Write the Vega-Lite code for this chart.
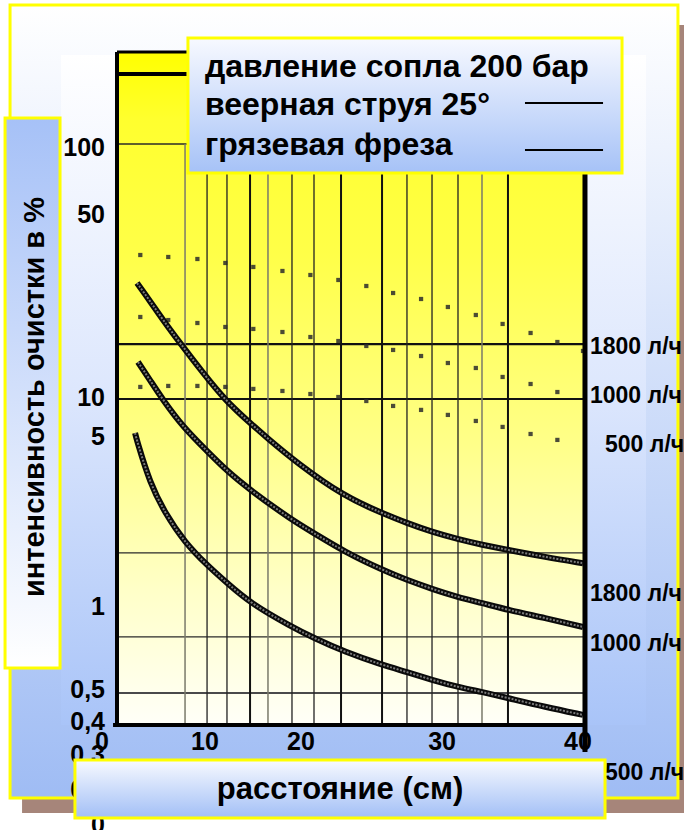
{
"$schema": "https://vega.github.io/schema/vega-lite/v6.json",
"width": 466, "height": 673,
"autosize": {"type": "none"},
"padding": {"left": 117, "top": 52, "right": 101, "bottom": 105},
"background": "#ffffff",
"config": {"view": {"stroke": null}, "text": {"font": "Liberation Sans", "fontWeight": "bold", "color": "#000000"}},
"datasets": {
"curves": [
{"flow":1800,"x":1.72,"y":28.5},{"flow":1800,"x":2.83,"y":24.23},{"flow":1800,"x":3.95,"y":20.4},{"flow":1800,"x":5.41,"y":16.58},{"flow":1800,"x":7.38,"y":12.65},{"flow":1800,"x":9.27,"y":9.91},{"flow":1800,"x":11.42,"y":8.05},{"flow":1800,"x":12.79,"y":7.1},{"flow":1800,"x":15.45,"y":5.61},{"flow":1800,"x":19.57,"y":4.13},{"flow":1800,"x":22.75,"y":3.57},{"flow":1800,"x":24.89,"y":3.26},{"flow":1800,"x":27.04,"y":3.01},{"flow":1800,"x":29.27,"y":2.82},{"flow":1800,"x":31.33,"y":2.68},{"flow":1800,"x":33.56,"y":2.56},{"flow":1800,"x":36.74,"y":2.4},{"flow":1800,"x":40,"y":2.27},
{"flow":1000,"x":1.8,"y":13.97},{"flow":1000,"x":2.83,"y":11.87},{"flow":1000,"x":3.95,"y":9.91},{"flow":1000,"x":5.67,"y":7.77},{"flow":1000,"x":7.73,"y":6.25},{"flow":1000,"x":9.44,"y":5.22},{"flow":1000,"x":11.42,"y":4.4},{"flow":1000,"x":15.02,"y":3.35},{"flow":1000,"x":16.91,"y":2.98},{"flow":1000,"x":19.57,"y":2.51},{"flow":1000,"x":22.75,"y":2.14},{"flow":1000,"x":24.89,"y":1.95},{"flow":1000,"x":27.04,"y":1.8},{"flow":1000,"x":29.27,"y":1.67},{"flow":1000,"x":31.33,"y":1.585},{"flow":1000,"x":33.56,"y":1.488},{"flow":1000,"x":36.74,"y":1.384},{"flow":1000,"x":40,"y":1.276},
{"flow":500,"x":1.55,"y":7.36},{"flow":500,"x":1.72,"y":6.84},{"flow":500,"x":2.83,"y":4.68},{"flow":500,"x":4.12,"y":3.57},{"flow":500,"x":5.84,"y":2.73},{"flow":500,"x":7.73,"y":2.23},{"flow":500,"x":9.44,"y":1.9},{"flow":500,"x":11.42,"y":1.585},{"flow":500,"x":15.02,"y":1.276},{"flow":500,"x":16.91,"y":1.155},{"flow":500,"x":19.57,"y":1.018},{"flow":500,"x":22.75,"y":0.906},{"flow":500,"x":24.89,"y":0.85},{"flow":500,"x":27.04,"y":0.791},{"flow":500,"x":29.27,"y":0.742},{"flow":500,"x":31.33,"y":0.71},{"flow":500,"x":33.56,"y":0.672},{"flow":500,"x":36.74,"y":0.62},{"flow":500,"x":40,"y":0.577}
],
"dots": [
{"flow":1800,"x":2.0,"y":36.7},{"flow":1800,"x":4.4,"y":36.05},{"flow":1800,"x":6.9,"y":35.4},{"flow":1800,"x":9.3,"y":34.15},{"flow":1800,"x":11.7,"y":32.94},{"flow":1800,"x":14.2,"y":31.77},{"flow":1800,"x":16.6,"y":30.64},{"flow":1800,"x":19.0,"y":29.29},{"flow":1800,"x":21.4,"y":27.74},{"flow":1800,"x":23.7,"y":26.04},{"flow":1800,"x":26.1,"y":24.67},{"flow":1800,"x":28.4,"y":22.95},{"flow":1800,"x":30.8,"y":21.35},{"flow":1800,"x":33.1,"y":19.69},{"flow":1800,"x":35.5,"y":18.15},{"flow":1800,"x":37.8,"y":16.73},{"flow":1800,"x":40.0,"y":15.43},
{"flow":1000,"x":2.0,"y":20.97},{"flow":1000,"x":4.4,"y":20.4},{"flow":1000,"x":6.9,"y":19.86},{"flow":1000,"x":9.3,"y":19.16},{"flow":1000,"x":11.7,"y":18.82},{"flow":1000,"x":14.2,"y":18.31},{"flow":1000,"x":16.6,"y":17.5},{"flow":1000,"x":19.0,"y":16.88},{"flow":1000,"x":21.4,"y":16.14},{"flow":1000,"x":23.7,"y":15.57},{"flow":1000,"x":26.1,"y":14.74},{"flow":1000,"x":28.4,"y":13.84},{"flow":1000,"x":30.8,"y":13.23},{"flow":1000,"x":33.1,"y":12.2},{"flow":1000,"x":35.5,"y":11.45},{"flow":1000,"x":37.8,"y":10.65},
{"flow":500,"x":2.0,"y":11.15},{"flow":500,"x":4.4,"y":11.25},{"flow":500,"x":6.9,"y":11.25},{"flow":500,"x":9.3,"y":11.15},{"flow":500,"x":11.7,"y":10.95},{"flow":500,"x":14.2,"y":10.75},{"flow":500,"x":16.6,"y":10.46},{"flow":500,"x":19.0,"y":10.18},{"flow":500,"x":21.4,"y":9.82},{"flow":500,"x":23.7,"y":9.39},{"flow":500,"x":26.1,"y":9.06},{"flow":500,"x":28.4,"y":8.66},{"flow":500,"x":30.8,"y":8.2},{"flow":500,"x":33.1,"y":7.77},{"flow":500,"x":35.5,"y":7.29},{"flow":500,"x":37.8,"y":6.91}
],
"ylabels": [
{"label":"100","y":96.45},{"label":"50","y":52.68},{"label":"10","y":10.09},{"label":"5","y":7.1},{"label":"1","y":1.529},{"label":"0,5","y":0.7226},{"label":"0,4","y":0.5412},{"label":"0,3","y":0.4017},{"label":"0,2","y":0.2929},{"label":"0","y":0.2136}
],
"xlabels": [
{"label":"0","x":-1.29},{"label":"10","x":7.55},{"label":"20","x":15.79},{"label":"30","x":27.9},{"label":"40","x":39.57}
],
"flowlabels": [
{"label":"1800 л/ч","x":40.6,"y":15.99},{"label":"1000 л/ч","x":40.6,"y":10.27},{"label":"500 л/ч","x":41.89,"y":6.6},
{"label":"1800 л/ч","x":40.6,"y":1.719},{"label":"1000 л/ч","x":40.6,"y":1.094},{"label":"500 л/ч","x":41.89,"y":0.3415}
]
},
"layer": [
{"data":{"values":[{}]},"mark":{"type":"rect","fill":"#a6857a","clip":false},
 "encoding":{"x":{"datum":-8.15,"type":"quantitative","scale":{"domain":[0,40],"nice":false,"zero":false},"axis":null},"x2":{"datum":48.67},
 "y":{"datum":292.9,"type":"quantitative","scale":{"type":"log","domain":[0.5266,229.5],"nice":false},"axis":null},"y2":{"datum":0.2379}}},
{"data":{"values":[{}]},"mark":{"type":"rect","clip":false,"stroke":"#ffff00","strokeWidth":3,
 "fill":{"gradient":"linear","x1":0,"y1":0,"x2":0,"y2":1,"stops":[{"offset":0,"color":"#ffffff"},{"offset":1,"color":"#9fbcf4"}]}},
 "encoding":{"x":{"datum":-9.18,"type":"quantitative","axis":null},"x2":{"datum":48.15},"y":{"datum":350.9,"type":"quantitative","axis":null},"y2":{"datum":0.2724}}},
{"data":{"values":[{}]},"mark":{"type":"rect","clip":false,
 "fill":{"gradient":"linear","x1":0,"y1":0,"x2":0,"y2":1,"stops":[{"offset":0,"color":"#ffffff"},{"offset":0.5,"color":"#dde7fd"},{"offset":1,"color":"#a9c4f8"}]}},
 "encoding":{"x":{"datum":-4.81,"type":"quantitative","axis":null},"x2":{"datum":45.41},"y":{"datum":223.4,"type":"quantitative","axis":null},"y2":{"datum":0.5266}}},
{"data":{"values":[{}]},"mark":{"type":"rect","clip":false,"stroke":"#ffff00","strokeWidth":3,
 "fill":{"gradient":"linear","x1":0,"y1":0,"x2":0,"y2":1,"stops":[{"offset":0,"color":"#a6c1f7"},{"offset":1,"color":"#ffffff"}]}},
 "encoding":{"x":{"datum":-9.61,"type":"quantitative","axis":null},"x2":{"datum":-4.89},"y":{"datum":126.5,"type":"quantitative","axis":null},"y2":{"datum":0.8813}}},
{"data":{"values":[{}]},"mark":{"type":"text","clip":false,"angle":270,"align":"center","baseline":"middle","fontSize":29},
 "encoding":{"x":{"datum":-7.01,"type":"quantitative","axis":null},"y":{"datum":10.18,"type":"quantitative","axis":null},"text":{"value":"интенсивность очистки в %"}}},
{"data":{"values":[{}]},"mark":{"type":"rect","clip":false,
 "fill":{"gradient":"linear","x1":0,"y1":0,"x2":0,"y2":1,"stops":[{"offset":0,"color":"#ffff00"},{"offset":0.1,"color":"#ffff2e"},{"offset":0.3,"color":"#ffff48"},{"offset":0.58,"color":"#ffff88"},{"offset":0.8,"color":"#ffffc8"},{"offset":1,"color":"#fffff8"}]}},
 "encoding":{"x":{"datum":0,"type":"quantitative","axis":null},"x2":{"datum":40},"y":{"datum":229.5,"type":"quantitative","axis":null},"y2":{"datum":0.5266}}},
{"data":{"values":[{"pct":100},{"pct":2.49},{"pct":1.166}]},"mark":{"type":"rule","color":"#2a2a2a","strokeWidth":1.3},
 "encoding":{"y":{"field":"pct","type":"quantitative","axis":null}}},
{"data":{"values":[{"pct":16.4},{"pct":10}]},"mark":{"type":"rule","color":"#111111","strokeWidth":2.2},
 "encoding":{"y":{"field":"pct","type":"quantitative","axis":null}}},
{"data":{"values":[{"pct":0.703}]},"mark":{"type":"rule","color":"#4a4a4a","strokeWidth":2.2},
 "encoding":{"y":{"field":"pct","type":"quantitative","axis":null}}},
{"data":{"values":[{"pct":188.2}]},"mark":{"type":"rule","color":"#000000","strokeWidth":4},
 "encoding":{"y":{"field":"pct","type":"quantitative","axis":null}}},
{"data":{"values":[{"cm":11.42},{"cm":19.23},{"cm":22.75},{"cm":33.56}]},"mark":{"type":"rule","color":"#111111","strokeWidth":2},
 "encoding":{"x":{"field":"cm","type":"quantitative","axis":null},"y":{"datum":100,"type":"quantitative","axis":null},"y2":{"datum":0.5266}}},
{"data":{"values":[{"cm":7.73},{"cm":9.44},{"cm":15.02},{"cm":16.91},{"cm":24.89},{"cm":27.04},{"cm":29.27}]},"mark":{"type":"rule","color":"#222222","strokeWidth":1.3},
 "encoding":{"x":{"field":"cm","type":"quantitative","axis":null},"y":{"datum":100,"type":"quantitative","axis":null},"y2":{"datum":0.5266}}},
{"data":{"values":[{"cm":5.84},{"cm":12.96},{"cm":31.33}]},"mark":{"type":"rule","color":"#7a7a6a","strokeWidth":1.5},
 "encoding":{"x":{"field":"cm","type":"quantitative","axis":null},"y":{"datum":100,"type":"quantitative","axis":null},"y2":{"datum":0.5266}}},
{"data":{"name":"dots"},"mark":{"type":"point","shape":"square","filled":true,"size":18,"color":"#2b2b2b","opacity":0.85},
 "encoding":{"x":{"field":"x","type":"quantitative","axis":null},"y":{"field":"y","type":"quantitative","axis":null}}},
{"data":{"name":"curves"},"mark":{"type":"line","color":"#0a0a0a","strokeWidth":6,"interpolate":"basis"},
 "encoding":{"x":{"field":"x","type":"quantitative","axis":null},"y":{"field":"y","type":"quantitative","axis":null},"detail":{"field":"flow","type":"nominal"}}},
{"data":{"name":"curves"},"mark":{"type":"line","color":"#7c7c7c","strokeWidth":2,"strokeDash":[2,1.5],"interpolate":"basis"},
 "encoding":{"x":{"field":"x","type":"quantitative","axis":null},"y":{"field":"y","type":"quantitative","axis":null},"detail":{"field":"flow","type":"nominal"}}},
{"data":{"values":[{}]},"mark":{"type":"rule","color":"#000000","strokeWidth":4,"clip":false},
 "encoding":{"x":{"datum":0,"type":"quantitative","axis":null},"y":{"datum":229.5,"type":"quantitative","axis":null},"y2":{"datum":0.5266}}},
{"data":{"values":[{}]},"mark":{"type":"rule","color":"#000000","strokeWidth":4,"clip":false},
 "encoding":{"x":{"datum":-0.34,"type":"quantitative","axis":null},"x2":{"datum":40},"y":{"datum":0.5266,"type":"quantitative","axis":null}}},
{"data":{"values":[{}]},"mark":{"type":"rule","color":"#000000","strokeWidth":3,"clip":false},
 "encoding":{"x":{"datum":0,"type":"quantitative","axis":null},"x2":{"datum":40},"y":{"datum":229.5,"type":"quantitative","axis":null}}},
{"data":{"name":"ylabels"},"mark":{"type":"text","align":"right","baseline":"middle","fontSize":25,"clip":false},
 "encoding":{"x":{"datum":-1.03,"type":"quantitative","axis":null},"y":{"field":"y","type":"quantitative","axis":null},"text":{"field":"label"}}},
{"data":{"name":"xlabels"},"mark":{"type":"text","align":"center","baseline":"middle","fontSize":25,"clip":false},
 "encoding":{"x":{"field":"x","type":"quantitative","axis":null},"y":{"datum":0.4517,"type":"quantitative","axis":null},"text":{"field":"label"}}},
{"data":{"name":"flowlabels"},"mark":{"type":"text","align":"left","baseline":"middle","fontSize":23,"clip":false},
 "encoding":{"x":{"field":"x","type":"quantitative","axis":null},"y":{"field":"y","type":"quantitative","axis":null},"text":{"field":"label"}}},
{"data":{"values":[{}]},"mark":{"type":"rule","color":"#000000","strokeWidth":5,"clip":false},
 "encoding":{"x":{"datum":40.17,"type":"quantitative","axis":null},"y":{"datum":229.5,"type":"quantitative","axis":null},"y2":{"datum":0.4128}}},
{"data":{"values":[{}]},"mark":{"type":"rect","clip":false,"stroke":"#ffff00","strokeWidth":3,
 "fill":{"gradient":"linear","x1":0,"y1":0,"x2":0,"y2":1,"stops":[{"offset":0,"color":"#f7f9ff"},{"offset":1,"color":"#a6c2f7"}]}},
 "encoding":{"x":{"datum":6.09,"type":"quantitative","axis":null},"x2":{"datum":43.35},"y":{"datum":260.4,"type":"quantitative","axis":null},"y2":{"datum":76.96}}},
{"data":{"values":[{"t":"давление сопла 200 бар","y":183.1},{"t":"веерная струя 25°","y":129.9},{"t":"грязевая фреза","y":90.57}]},
 "mark":{"type":"text","align":"left","baseline":"alphabetic","fontSize":32,"clip":false},
 "encoding":{"x":{"datum":7.55,"type":"quantitative","axis":null},"y":{"field":"y","type":"quantitative","axis":null},"text":{"field":"t"}}},
{"data":{"values":[{"y":144.8},{"y":94.7}]},"mark":{"type":"rule","color":"#000000","strokeWidth":2,"clip":false},
 "encoding":{"x":{"datum":35.02,"type":"quantitative","axis":null},"x2":{"datum":41.72},"y":{"field":"y","type":"quantitative","axis":null}}},
{"data":{"values":[{}]},"mark":{"type":"rect","clip":false,"stroke":"#ffff00","strokeWidth":3,
 "fill":{"gradient":"linear","x1":0,"y1":0,"x2":0,"y2":1,"stops":[{"offset":0,"color":"#f8faff"},{"offset":1,"color":"#a2bff6"}]}},
 "encoding":{"x":{"datum":-3.61,"type":"quantitative","axis":null},"x2":{"datum":41.89},"y":{"datum":0.384,"type":"quantitative","axis":null},"y2":{"datum":0.2274}}},
{"data":{"values":[{}]},"mark":{"type":"text","clip":false,"align":"center","baseline":"middle","fontSize":31},
 "encoding":{"x":{"datum":19.14,"type":"quantitative","axis":null},"y":{"datum":0.2929,"type":"quantitative","axis":null},"text":{"value":"расстояние (см)"}}}
]
}
